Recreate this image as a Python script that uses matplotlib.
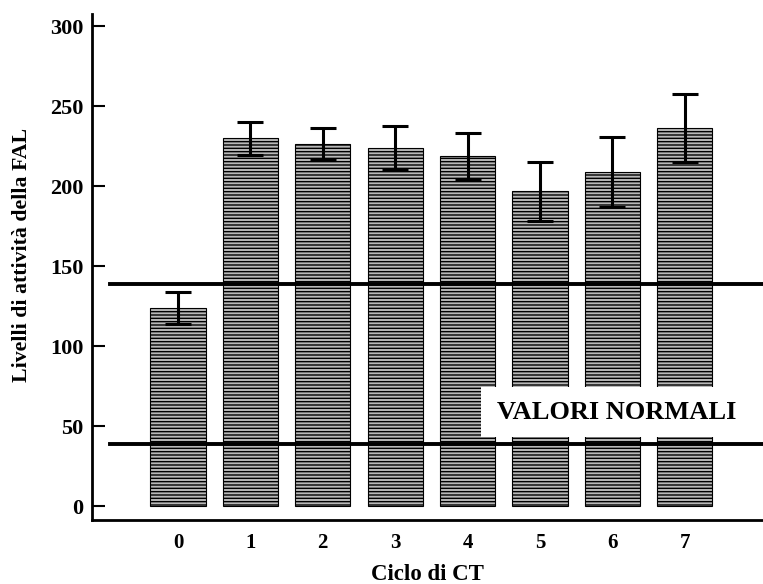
import matplotlib
matplotlib.use("Agg")
import matplotlib.pyplot as plt
from matplotlib.patches import Rectangle

cycles = ["0", "1", "2", "3", "4", "5", "6", "7"]
values = [124, 230, 226.5, 224, 219, 197, 209, 236.5]
errors = [10, 10.5, 10, 13.5, 14.5, 18.5, 22, 21]
normal_low = 39
normal_high = 139
yticks = [0, 50, 100, 150, 200, 250, 300]

plt.rcParams['font.family'] = ['Liberation Serif', 'DejaVu Serif']
plt.rcParams['font.weight'] = 'bold'
plt.rcParams['hatch.linewidth'] = 1.0
plt.rcParams['hatch.color'] = 'black'

fig = plt.figure(figsize=(7.63, 5.84), dpi=100)
ax = fig.add_axes([92/763, 64/584, 671/763, 506/584])

x = list(range(len(cycles)))
ax.bar(x, values, width=0.76, color='#b8b8b8', edgecolor='black',
       linewidth=0.8, hatch='-----', zorder=2)
ax.errorbar(x, values, yerr=errors, fmt='none', ecolor='black',
            elinewidth=2.2, capsize=9.5, capthick=2.2, zorder=3)

ax.set_xlim(-1.188, 8.08)
ax.set_ylim(-8.56, 307.7)

# white box with label
ax.add_patch(Rectangle((4.185, 43.3), 4.0, 31.3, facecolor='white',
                       edgecolor='none', zorder=4))
ax.text(6.06, 58.9, "VALORI NORMALI", ha='center', va='center',
        fontsize=19, fontweight='bold', zorder=5)

for yv in (normal_low, normal_high):
    ax.axhline(yv, xmin=0.0268, xmax=1.0, color='black', linewidth=2.8, zorder=6)

ax.set_xticks(x)
ax.set_xticklabels(cycles, fontsize=15, fontweight='bold')
ax.set_yticks(yticks)
ax.set_yticklabels([str(v) for v in yticks], fontsize=16, fontweight='bold')
ax.tick_params(axis='x', length=0, pad=9)
ax.tick_params(axis='y', direction='in', length=9, width=1.5, pad=6)

for s in ('top', 'right'):
    ax.spines[s].set_visible(False)
for s in ('left', 'bottom'):
    ax.spines[s].set_linewidth(2)

ax.set_xlabel("Ciclo di CT", fontsize=16.5, fontweight='bold', labelpad=8)
ax.set_ylabel("Livelli di attività della FAL", fontsize=15.7, fontweight='bold')
ax.yaxis.set_label_coords(-0.09, 0.523)

fig.savefig("out.png", dpi=100)
